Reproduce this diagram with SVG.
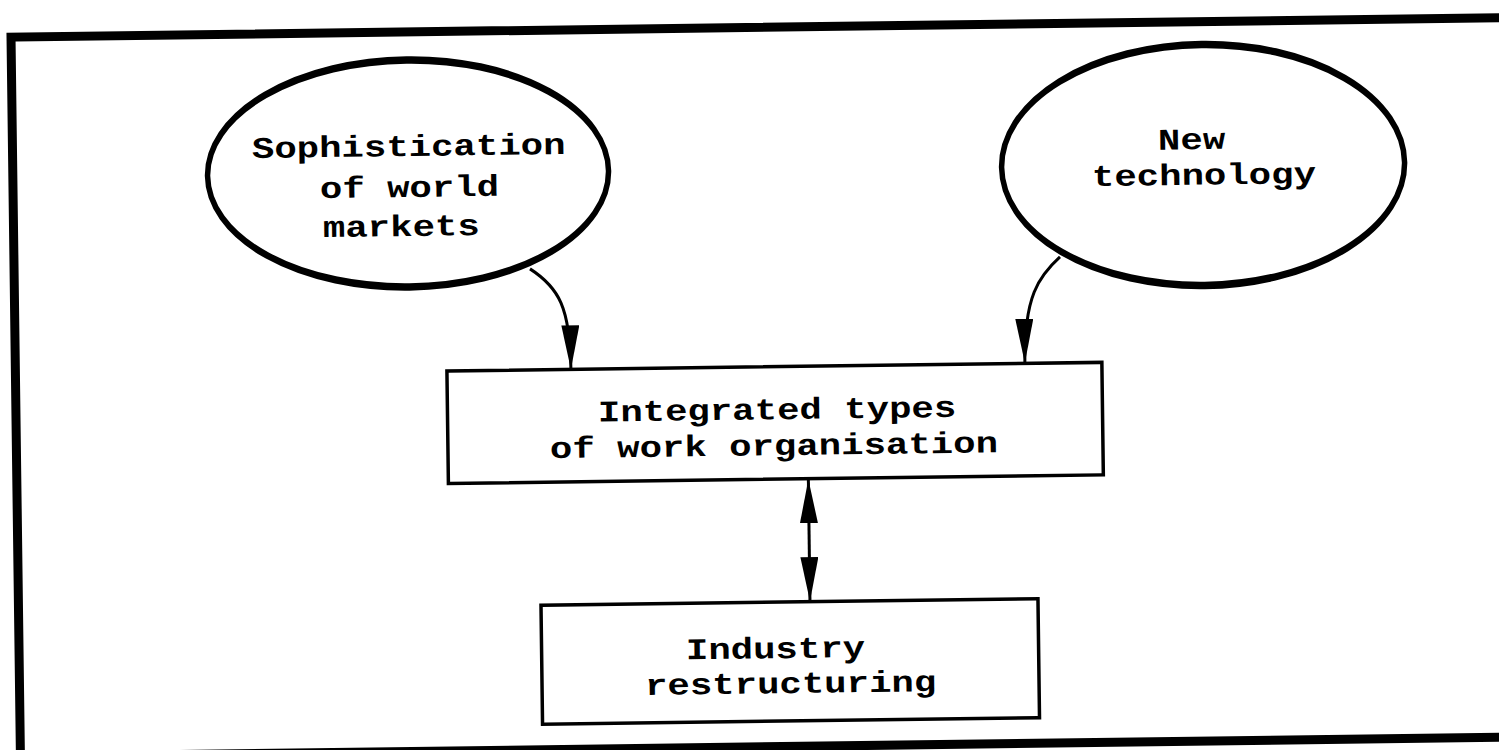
<svg xmlns="http://www.w3.org/2000/svg" width="1499" height="750" viewBox="0 0 1499 750">
  <defs>
    <style>
      .frame { fill: none; stroke: #000; stroke-width: 9; }
      .oval { fill: none; stroke: #000; stroke-width: 4.5; }
      .box { fill: none; stroke: #000; stroke-width: 3.5; }
      .lbl { font-family: "Liberation Mono", "DejaVu Sans Mono", monospace; font-weight: bold; font-size: 30px; fill: #000; }
      .conn { fill: none; stroke: #000; stroke-width: 3; }
    </style>
    <marker id="ah" viewBox="0 0 44 18" markerUnits="userSpaceOnUse" markerWidth="44" markerHeight="18" refX="44" refY="9" orient="auto-start-reverse">
      <path d="M0,0 L44,9 L0,18 z" fill="#000"/>
    </marker>
  </defs>
  <rect x="0" y="0" width="1499" height="750" fill="#fff"/>
  <g transform="rotate(-0.75 750 375)">
    <rect id="frame" class="frame" x="15.5" y="27.5" width="1530" height="719.5"/>

    <g id="node-markets">
      <ellipse class="oval" cx="410.7" cy="169" rx="201" ry="115"/>
      <ellipse class="oval" cx="410.7" cy="169" rx="200" ry="112"/>
      <text class="lbl" x="254.9" y="151.5" textLength="313.6" lengthAdjust="spacingAndGlyphs">Sophistication</text>
      <text class="lbl" x="322.4" y="192.5" textLength="179.2" lengthAdjust="spacingAndGlyphs">of world</text>
      <text class="lbl" x="324.9" y="231.5" textLength="156.8" lengthAdjust="spacingAndGlyphs">markets</text>
    </g>

    <g id="node-technology">
      <ellipse class="oval" cx="1205.8" cy="170.9" rx="202" ry="122"/>
      <ellipse class="oval" cx="1205.8" cy="170.9" rx="201" ry="119"/>
      <text class="lbl" x="1161" y="155" textLength="67.2" lengthAdjust="spacingAndGlyphs">New</text>
      <text class="lbl" x="1094.5" y="190.5" textLength="224" lengthAdjust="spacingAndGlyphs">technology</text>
    </g>

    <g id="node-integrated">
      <rect class="box" x="447" y="367" width="655" height="112.5"/>
      <text class="lbl" x="597.4" y="419.5" textLength="358.4" lengthAdjust="spacingAndGlyphs">Integrated types</text>
      <text class="lbl" x="549" y="455.5" textLength="448" lengthAdjust="spacingAndGlyphs">of work organisation</text>
    </g>

    <g id="node-industry">
      <rect class="box" x="538" y="602.5" width="497" height="119"/>
      <text class="lbl" x="682.3" y="658.5" textLength="179.2" lengthAdjust="spacingAndGlyphs">Industry</text>
      <text class="lbl" x="641" y="693.5" textLength="291.2" lengthAdjust="spacingAndGlyphs">restructuring</text>
    </g>

    <g id="connectors">
      <path class="conn" d="M531.4,266 C560,285 571,305 571,367" marker-end="url(#ah)"/>
      <path class="conn" d="M1061.5,261 C1040,280 1025,300 1025,366.5" marker-end="url(#ah)"/>
      <path class="conn" d="M807,480 L807,602" marker-start="url(#ah)" marker-end="url(#ah)"/>
    </g>
  </g>
</svg>
